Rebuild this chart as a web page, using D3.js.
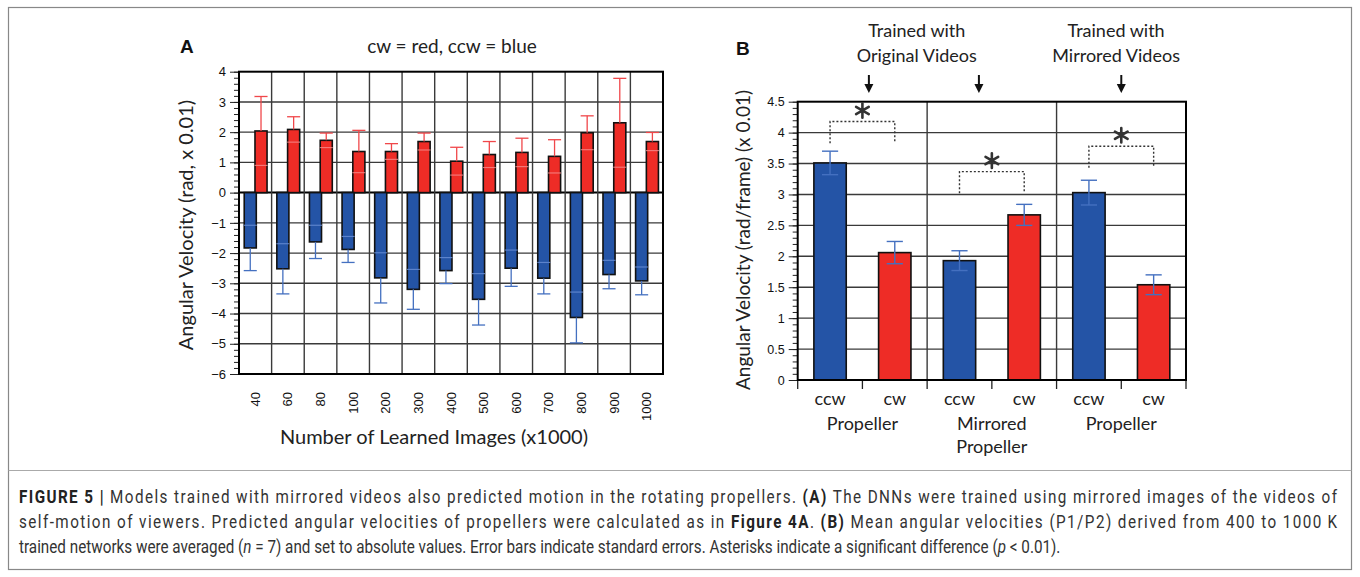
<!DOCTYPE html>
<html>
<head>
<meta charset="utf-8">
<script src="https://cdn.jsdelivr.net/npm/d3@7"></script>
<style>
  body { margin: 0; background: #fff; }
  svg { display: block; }
  .tick-lbl { font-family: "Liberation Sans", Arial, sans-serif; }
  .title { font-family: Lato, "Open Sans", sans-serif; fill: #222; }
  .caption { font-family: Roboto, "Liberation Sans", sans-serif; font-size: 17.5px; fill: #333; }
</style>
</head>
<body>
<svg id="fig" width="1360" height="577"></svg>
<script>
// ---- panel A data (angular velocity, rad x 0.01) ----
const imageCounts = ["40", "60", "80", "100", "200", "300", "400", "500", "600", "700", "800", "900", "1000"];
const cwValues = [2.04, 2.09, 1.73, 1.36, 1.36, 1.69, 1.04, 1.26, 1.33, 1.20, 1.98, 2.31, 1.69];
const cwErrors = [1.14, 0.42, 0.24, 0.70, 0.26, 0.28, 0.46, 0.43, 0.47, 0.55, 0.56, 1.47, 0.30];
const ccwValues = [-1.83, -2.52, -1.63, -1.88, -2.82, -3.20, -2.58, -3.53, -2.50, -2.83, -4.13, -2.71, -2.92];
const ccwErrors = [0.75, 0.83, 0.55, 0.43, 0.83, 0.66, 0.43, 0.85, 0.60, 0.52, 0.84, 0.47, 0.46];
const ticksA = [4, 3, 2, 1, 0, -1, -2, -3, -4, -5, -6];

// ---- panel B data (rad/frame x 0.01) ----
const dirLabels = ["ccw", "cw", "ccw", "cw", "ccw", "cw"];
const groupLabels = [["Propeller"], ["Mirrored", "Propeller"], ["Propeller"]];
const meanValues = [3.51, 2.06, 1.93, 2.67, 3.03, 1.54];
const meanErrors = [0.19, 0.18, 0.16, 0.17, 0.20, 0.16];
const ticksB = [4.5, 4, 3.5, 3, 2.5, 2, 1.5, 1, 0.5, 0];
const sigTops = [4.18, 3.37, 3.78];     // dotted bracket heights
const sigDrop = 0.35;
const trainLabels = [["Trained with", "Original Videos"], ["Trained with", "Mirrored Videos"]];
const trainLabelPos = [0.92, 2.46];     // in group units
const arrowPos = [0.55, 1.4, 2.5];

const RED = "#ee2c26", BLUE = "#2454a6";
const RED_ERR = "#f0474a", BLUE_ERR = "#4470c0";

const svg = d3.select("#fig");

// figure frame
svg.append("rect").attr("x", 8.5).attr("y", 7.5).attr("width", 1343).attr("height", 562)
  .attr("fill", "none").attr("stroke", "#888").attr("stroke-width", 1.2);
svg.append("line").attr("x1", 8.5).attr("x2", 1351.5).attr("y1", 470.5).attr("y2", 470.5)
  .attr("stroke", "#aaa").attr("stroke-width", 1);

// ================= Panel A =================
const A = { left: 239, right: 663, top: 71.7, bottom: 374 };
const xA = d3.scaleBand().domain(imageCounts).range([A.left, A.right]);
const yA = d3.scaleLinear().domain([-6, 4]).range([A.bottom, A.top]);
const gA = svg.append("g");

// grid
gA.selectAll(".hgrid").data(ticksA.filter(t => t > -6 && t < 4)).join("line")
  .attr("x1", A.left).attr("x2", A.right)
  .attr("y1", d => yA(d)).attr("y2", d => yA(d))
  .attr("stroke", d => d === 0 ? "#000" : "#3a3a3a")
  .attr("stroke-width", d => d === 0 ? 2 : 1.4);
gA.selectAll(".vgrid").data(imageCounts.slice(1)).join("line")
  .attr("x1", d => xA(d)).attr("x2", d => xA(d))
  .attr("y1", A.top).attr("y2", A.bottom)
  .attr("stroke", "#3a3a3a").attr("stroke-width", 1.4);

// y axis with minor ticks
const yAxisA = gA.append("g").attr("transform", `translate(${A.left},0)`);
yAxisA.call(d3.axisLeft(yA).tickValues(d3.range(-6, 4.01, 0.2)).tickSize(5).tickFormat(""));
yAxisA.call(g => g.selectAll(".domain").remove());
const yAxisA2 = gA.append("g").attr("transform", `translate(${A.left},0)`)
  .call(d3.axisLeft(yA).tickValues(ticksA).tickSize(9).tickPadding(4).tickFormat(d => d < 0 ? "\u2212" + Math.abs(d) : d));
yAxisA2.select(".domain").remove();
gA.selectAll(".tick text").attr("class", "tick-lbl").style("font-size", "13px").attr("fill", "#111");
gA.selectAll(".tick line").attr("stroke", "#222");

const bw = xA.bandwidth();
const redX = d => xA(d) + bw * 0.49, blueX = d => xA(d) + bw * 0.16, barW = bw * 0.37;

// bars
gA.selectAll(".cw").data(imageCounts).join("rect")
  .attr("x", d => redX(d)).attr("width", barW)
  .attr("y", (d, i) => yA(cwValues[i])).attr("height", (d, i) => yA(0) - yA(cwValues[i]))
  .attr("fill", RED).attr("stroke", "#111").attr("stroke-width", 1.6);
gA.selectAll(".ccw").data(imageCounts).join("rect")
  .attr("x", d => blueX(d)).attr("width", barW)
  .attr("y", yA(0)).attr("height", (d, i) => yA(ccwValues[i]) - yA(0))
  .attr("fill", BLUE).attr("stroke", "#111").attr("stroke-width", 1.6);

// error bars
imageCounts.forEach((d, i) => {
  const cx = redX(d) + barW / 2, hw = barW / 2 + 0.5;
  const hi = yA(cwValues[i] + cwErrors[i]), lo = yA(cwValues[i] - cwErrors[i]);
  gA.append("line").attr("x1", cx).attr("x2", cx).attr("y1", yA(cwValues[i])).attr("y2", hi)
    .attr("stroke", RED_ERR).attr("stroke-width", 1.3);
  gA.append("line").attr("x1", cx - hw).attr("x2", cx + hw).attr("y1", hi).attr("y2", hi)
    .attr("stroke", RED_ERR).attr("stroke-width", 1.3);
  gA.append("line").attr("x1", cx - hw).attr("x2", cx + hw).attr("y1", lo).attr("y2", lo)
    .attr("stroke", "#f58a8a").attr("stroke-width", 1.2).attr("opacity", 0.8);

  const bx = blueX(d) + barW / 2;
  const bLo = yA(ccwValues[i] - ccwErrors[i]), bHi = yA(ccwValues[i] + ccwErrors[i]);
  gA.append("line").attr("x1", bx).attr("x2", bx).attr("y1", yA(ccwValues[i])).attr("y2", bLo)
    .attr("stroke", BLUE_ERR).attr("stroke-width", 1.3);
  gA.append("line").attr("x1", bx - hw).attr("x2", bx + hw).attr("y1", bLo).attr("y2", bLo)
    .attr("stroke", BLUE_ERR).attr("stroke-width", 1.3);
  gA.append("line").attr("x1", bx - hw).attr("x2", bx + hw).attr("y1", bHi).attr("y2", bHi)
    .attr("stroke", "#6a8fd6").attr("stroke-width", 1.2).attr("opacity", 0.8);
});

// frame
gA.append("rect").attr("x", A.left).attr("y", A.top).attr("width", A.right - A.left).attr("height", A.bottom - A.top)
  .attr("fill", "none").attr("stroke", "#000").attr("stroke-width", 2);

// x labels (rotated)
gA.selectAll(".xl").data(imageCounts).join("text")
  .attr("class", "tick-lbl")
  .attr("transform", d => `translate(${xA(d) + bw / 2},392) rotate(-90)`)
  .attr("text-anchor", "end").attr("dominant-baseline", "central")
  .style("font-size", "13px").attr("fill", "#111").text(d => d);

svg.append("text").attr("class", "title").attr("x", 434).attr("y", 444).attr("text-anchor", "middle")
  .style("font-size", "20px").text("Number of Learned Images (x1000)");
svg.append("text").attr("class", "title").attr("transform", "translate(193,225) rotate(-90)").attr("text-anchor", "middle")
  .style("font-size", "20px").text("Angular Velocity (rad, x 0.01)");
svg.append("text").attr("class", "title").attr("x", 452).attr("y", 53).attr("text-anchor", "middle")
  .style("font-size", "19px").text("cw = red, ccw = blue");
svg.append("text").attr("x", 180).attr("y", 53).style("font-family", "Liberation Sans, Arial, sans-serif")
  .style("font-weight", "bold").style("font-size", "19px").attr("fill", "#111").text("A");

// ================= Panel B =================
const B = { left: 797.7, right: 1186, top: 101.7, bottom: 380 };
const bandIds = d3.range(dirLabels.length);
const xB = d3.scaleBand().domain(bandIds).range([B.left, B.right]);
const gx = d3.scaleLinear().domain([0, 3]).range([B.left, B.right]);
const yB = d3.scaleLinear().domain([0, 4.5]).range([B.bottom, B.top]);
const gB = svg.append("g");

gB.selectAll(".hgrid").data(ticksB.filter(t => t > 0 && t < 4.5)).join("line")
  .attr("x1", B.left).attr("x2", B.right).attr("y1", d => yB(d)).attr("y2", d => yB(d))
  .attr("stroke", "#3a3a3a").attr("stroke-width", 1.4);
gB.selectAll(".vgrid").data([1, 2]).join("line")
  .attr("x1", d => gx(d)).attr("x2", d => gx(d)).attr("y1", B.top).attr("y2", B.bottom)
  .attr("stroke", "#3a3a3a").attr("stroke-width", 1.4);

const yAxisB = gB.append("g").attr("transform", `translate(${B.left},0)`);
yAxisB.call(d3.axisLeft(yB).tickValues(d3.range(0, 4.501, 0.1)).tickSize(5).tickFormat(""));
yAxisB.select(".domain").remove();
const yAxisB2 = gB.append("g").attr("transform", `translate(${B.left},0)`)
  .call(d3.axisLeft(yB).tickValues(ticksB).tickSize(9).tickPadding(4).tickFormat(d3.format("~g")));
yAxisB2.select(".domain").remove();
gB.selectAll(".tick text").attr("class", "tick-lbl").style("font-size", "12.5px").attr("fill", "#111");
gB.selectAll(".tick line").attr("stroke", "#222");

// bottom ticks at band edges
gB.selectAll(".btick").data(d3.range(dirLabels.length + 1)).join("line")
  .attr("x1", d => B.left + d * xB.step()).attr("x2", d => B.left + d * xB.step())
  .attr("y1", B.bottom).attr("y2", B.bottom + 9).attr("stroke", "#222").attr("stroke-width", 1.3);

const bwB = xB.bandwidth() * 0.5;
gB.selectAll(".bar").data(bandIds).join("rect")
  .attr("x", d => xB(d) + xB.bandwidth() / 2 - bwB / 2).attr("width", bwB)
  .attr("y", d => yB(meanValues[d])).attr("height", d => yB(0) - yB(meanValues[d]))
  .attr("fill", d => dirLabels[d] === "ccw" ? BLUE : RED)
  .attr("stroke", "#111").attr("stroke-width", 1.6);

bandIds.forEach(d => {
  const cx = xB(d) + xB.bandwidth() / 2, hw = bwB / 4;
  const hi = yB(meanValues[d] + meanErrors[d]), lo = yB(meanValues[d] - meanErrors[d]);
  gB.append("line").attr("x1", cx).attr("x2", cx).attr("y1", lo).attr("y2", hi)
    .attr("stroke", BLUE_ERR).attr("stroke-width", 1.4);
  [hi, lo].forEach(y => gB.append("line").attr("x1", cx - hw).attr("x2", cx + hw).attr("y1", y).attr("y2", y)
    .attr("stroke", BLUE_ERR).attr("stroke-width", 1.4));
});

gB.append("rect").attr("x", B.left).attr("y", B.top).attr("width", B.right - B.left).attr("height", B.bottom - B.top)
  .attr("fill", "none").attr("stroke", "#000").attr("stroke-width", 2);

// significance brackets
sigTops.forEach((top, g) => {
  const x1 = xB(g * 2) + xB.bandwidth() / 2, x2 = xB(g * 2 + 1) + xB.bandwidth() / 2;
  gB.append("path")
    .attr("d", `M${x1},${yB(top - sigDrop)}V${yB(top)}H${x2}V${yB(top - sigDrop)}`)
    .attr("fill", "none").attr("stroke", "#333").attr("stroke-width", 1.4).attr("stroke-dasharray", "2,2");
  gB.append("path").attr("d", d3.symbol().type(d3.symbolAsterisk).size(150)())
    .attr("transform", `translate(${(x1 + x2) / 2},${yB(top) - 11})`)
    .attr("fill", "none").attr("stroke", "#333").attr("stroke-width", 2.6).attr("stroke-linecap", "round");
});

// x labels
gB.selectAll(".dir").data(bandIds).join("text").attr("class", "title")
  .attr("x", d => xB(d) + xB.bandwidth() / 2).attr("y", 405).attr("text-anchor", "middle")
  .style("font-size", "18px").text(d => dirLabels[d]);
groupLabels.forEach((lines, g) => {
  lines.forEach((t, k) => svg.append("text").attr("class", "title")
    .attr("x", gx(g + 0.5)).attr("y", 430 + k * 23).attr("text-anchor", "middle")
    .style("font-size", "18px").text(t));
});

// top labels and arrows
trainLabels.forEach((lines, k) => {
  lines.forEach((t, j) => svg.append("text").attr("class", "title")
    .attr("x", gx(trainLabelPos[k])).attr("y", 37 + j * 25).attr("text-anchor", "middle")
    .style("font-size", "18px").text(t));
});
arrowPos.forEach(p => {
  const x = gx(p);
  svg.append("line").attr("x1", x).attr("x2", x).attr("y1", 75).attr("y2", 86).attr("stroke", "#111").attr("stroke-width", 2);
  svg.append("path").attr("d", `M${x - 4.5},84L${x + 4.5},84L${x},93Z`).attr("fill", "#111");
});

svg.append("text").attr("class", "title").attr("transform", "translate(750,240) rotate(-90)").attr("text-anchor", "middle")
  .style("font-size", "19px").text("Angular Velocity (rad/frame) (x 0.01)");
svg.append("text").attr("x", 736).attr("y", 55).style("font-family", "Liberation Sans, Arial, sans-serif")
  .style("font-weight", "bold").style("font-size", "19px").attr("fill", "#111").text("B");

// ================= Caption (condensed, justified, last line natural) =================
const captionLines = [
  [["FIGURE 5 |", "b"], [" Models trained with mirrored videos also predicted motion in the rotating propellers. "], ["(A)", "b"], [" The DNNs were trained using mirrored images of the videos of"]],
  [["self-motion of viewers. Predicted angular velocities of propellers were calculated as in "], ["Figure 4A", "b"], [". "], ["(B)", "b"], [" Mean angular velocities (P1/P2) derived from 400 to 1000\u2009K"]],
  [["trained networks were averaged ("], ["n", "i"], [" = 7) and set to absolute values. Error bars indicate standard errors. Asterisks indicate a significant difference ("], ["p", "i"], [" < 0.01)."]]
];
const capTexts = captionLines.map((parts, k) => {
  const t = svg.append("text").attr("class", "caption").attr("x", 0).attr("y", 0);
  parts.forEach(([s, st]) => {
    const sp = t.append("tspan").text(s);
    if (st === "b") sp.style("font-weight", "bold").attr("fill", "#222");
    if (st === "i") sp.style("font-style", "italic");
  });
  return t;
});
const lastLen = capTexts[2].node().getComputedTextLength();
const sx = 1042 / lastLen;
capTexts.forEach((t, k) => t.attr("transform", `translate(19,${503 + k * 25}) scale(${sx},1)`));
capTexts.slice(0, 2).forEach(t => t.attr("textLength", 1318 / sx).attr("lengthAdjust", "spacing"));
</script>
</body>
</html>
